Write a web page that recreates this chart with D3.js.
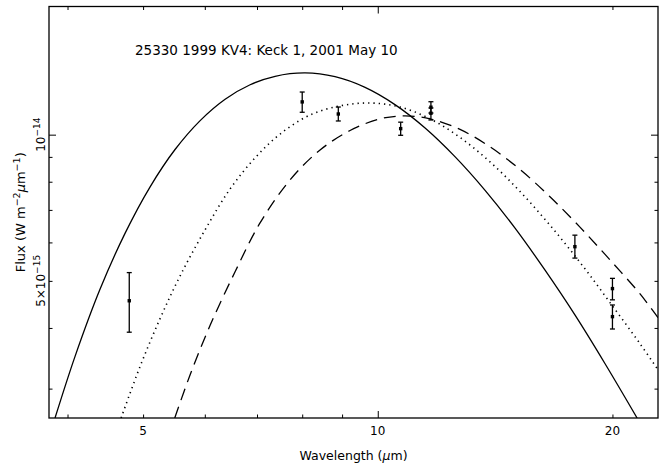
<!DOCTYPE html>
<html>
<head>
<meta charset="utf-8">
<script src="https://cdn.jsdelivr.net/npm/d3@7/dist/d3.min.js"></script>
<style>
body { margin: 0; background: #fff; }
text { font-family: 'DejaVu Sans', sans-serif; fill: #000; }
</style>
</head>
<body>
<svg id="chart" width="660" height="473"></svg>
<script>
let title = '25330 1999 KV4: Keck 1, 2001 May 10'

// observations: wavelength (um), flux and error bar ends (W m-2 um-1)
let obs_wave = [4.80, 8.0, 8.9, 10.7, 11.7, 11.7, 17.9, 20.0, 20.0]
let obs_flux = [4.55e-15, 1.168e-14, 1.103e-14, 1.029e-14, 1.139e-14, 1.107e-14, 5.88e-15, 4.82e-15, 4.22e-15]
let obs_hi = [5.20e-15, 1.224e-14, 1.140e-14, 1.061e-14, 1.169e-14, 1.135e-14, 6.21e-15, 5.06e-15, 4.46e-15]
let obs_lo = [3.92e-15, 1.112e-14, 1.067e-14, 0.997e-14, 1.108e-14, 1.072e-14, 5.57e-15, 4.57e-15, 3.98e-15]

// model curves
let solid_wave = [3.855, 4.091, 4.404, 4.742, 5.105, 5.495, 5.918, 6.371, 6.859, 7.385, 8.069, 8.815, 9.632, 10.52, 11.50, 12.56, 13.73, 15.00, 16.39, 17.91, 19.56, 21.51]
let solid_flux = [2.61e-15, 3.50e-15, 4.81e-15, 6.27e-15, 7.81e-15, 9.32e-15, 1.069e-14, 1.183e-14, 1.267e-14, 1.319e-14, 1.340e-14, 1.316e-14, 1.251e-14, 1.153e-14, 1.032e-14, 9.01e-15, 7.68e-15, 6.42e-15, 5.26e-15, 4.25e-15, 3.38e-15, 2.61e-15]

let dotted_wave = [4.686, 4.955, 5.257, 5.578, 6.005, 6.465, 6.961, 7.495, 8.188, 8.946, 9.775, 10.68, 11.67, 12.75, 13.93, 15.22, 16.63, 18.17, 19.86, 21.70, 22.88]
let dotted_flux = [2.61e-15, 3.33e-15, 4.18e-15, 5.12e-15, 6.37e-15, 7.73e-15, 8.96e-15, 1.003e-14, 1.098e-14, 1.146e-14, 1.162e-14, 1.140e-14, 1.078e-14, 9.87e-15, 8.79e-15, 7.64e-15, 6.51e-15, 5.46e-15, 4.51e-15, 3.71e-15, 3.28e-15]

let dashed_wave = [5.490, 5.744, 6.095, 6.561, 7.063, 7.718, 8.433, 9.215, 10.07, 10.84, 11.67, 12.75, 13.93, 15.22, 16.63, 18.17, 19.86, 21.70, 22.88]
let dashed_flux = [2.61e-15, 3.20e-15, 4.05e-15, 5.22e-15, 6.58e-15, 8.07e-15, 9.30e-15, 1.020e-14, 1.078e-14, 1.093e-14, 1.078e-14, 1.025e-14, 9.44e-15, 8.48e-15, 7.45e-15, 6.45e-15, 5.52e-15, 4.70e-15, 4.20e-15]

// ticks
let x_major = [10]
let x_minor = [4, 5, 6, 7, 8, 9, 20]
let x_labels = [5, 10, 20]
let y_major = [1e-14]
let y_minor = [3e-15, 4e-15, 5e-15, 6e-15, 7e-15, 8e-15, 9e-15]
let y_labels = [5e-15, 1e-14]
let y_label_text = [['5\u00d710', '\u221215'], ['10', '\u221214']]

let pad_l = 49, pad_r = 658, pad_t = 6.5, pad_b = 418

let chart = d3.select('#chart')

let xScale = d3.scaleLog()
    .domain([3.787, 22.88])
    .range([pad_l, pad_r])

let yScale = d3.scaleLog()
    .domain([2.61e-15, 1.836e-14])
    .range([pad_b, pad_t])

chart.append('clipPath')
    .attr('id', 'frame-clip')
    .append('rect')
    .attr('x', pad_l)
    .attr('y', pad_t)
    .attr('width', pad_r - pad_l)
    .attr('height', pad_b - pad_t)

// tick marks on all four sides, pointing inward
function ticks(gen, values, size, transform) {
    let g = chart.append('g')
        .attr('transform', transform)
        .call(gen.tickValues(values).tickSize(-size).tickFormat(''))
    g.select('.domain').remove()
    g.selectAll('line').attr('stroke', '#000').attr('stroke-width', 1)
}
ticks(d3.axisBottom(xScale), x_major, 7, `translate(0, ${pad_b})`)
ticks(d3.axisBottom(xScale), x_minor, 3.5, `translate(0, ${pad_b})`)
ticks(d3.axisTop(xScale), x_major, 7, `translate(0, ${pad_t})`)
ticks(d3.axisTop(xScale), x_minor, 3.5, `translate(0, ${pad_t})`)
ticks(d3.axisLeft(yScale), y_major, 7, `translate(${pad_l}, 0)`)
ticks(d3.axisLeft(yScale), y_minor, 3.5, `translate(${pad_l}, 0)`)
ticks(d3.axisRight(yScale), y_major, 7, `translate(${pad_r}, 0)`)
ticks(d3.axisRight(yScale), y_minor, 3.5, `translate(${pad_r}, 0)`)

chart.append('rect')
    .attr('x', pad_l)
    .attr('y', pad_t)
    .attr('width', pad_r - pad_l)
    .attr('height', pad_b - pad_t)
    .attr('fill', 'none')
    .attr('stroke', '#000')
    .attr('stroke-width', 1.3)

// tick labels
chart.selectAll('.xlab')
    .data(x_labels)
    .enter().append('text')
    .attr('class', 'xlab')
    .attr('x', d => xScale(d))
    .attr('y', 435)
    .attr('text-anchor', 'middle')
    .attr('font-size', 12)
    .text(d3.format('d'))

y_labels.forEach((v, i) => {
    let t = chart.append('text')
        .attr('transform', `translate(45, ${yScale(v)}) rotate(-90)`)
        .attr('text-anchor', 'middle')
        .attr('font-size', 12)
    t.append('tspan').text(y_label_text[i][0])
    t.append('tspan').attr('dy', -5).attr('font-size', 9).text(y_label_text[i][1])
})

// axis titles
let xt = chart.append('text')
    .attr('x', (pad_l + pad_r) / 2)
    .attr('y', 460)
    .attr('text-anchor', 'middle')
    .attr('font-size', 12.5)
xt.append('tspan').text('Wavelength (')
xt.append('tspan').attr('font-style', 'italic').text('\u03bc')
xt.append('tspan').text('m)')

let yt = chart.append('text')
    .attr('transform', `translate(25, ${(pad_t + pad_b) / 2}) rotate(-90)`)
    .attr('text-anchor', 'middle')
    .attr('font-size', 13)
yt.append('tspan').text('Flux (W m')
yt.append('tspan').attr('dy', -5).attr('font-size', 9.5).text('\u22122')
yt.append('tspan').attr('dy', 5).attr('font-style', 'italic').text('\u03bc')
yt.append('tspan').text('m')
yt.append('tspan').attr('dy', -5).attr('font-size', 9.5).text('\u22121')
yt.append('tspan').attr('dy', 5).text(')')

chart.append('text')
    .attr('x', 135)
    .attr('y', 55)
    .attr('font-size', 13.5)
    .text(title)

// model curves
let line = d3.line()
    .x(d => xScale(d[0]))
    .y(d => yScale(d[1]))
    .curve(d3.curveCatmullRom)

let curves = [
    [d3.zip(solid_wave, solid_flux), null, 1.3],
    [d3.zip(dotted_wave, dotted_flux), '1.3,4', 1.6],
    [d3.zip(dashed_wave, dashed_flux), '12,7', 1.3]
]
curves.forEach(c => {
    chart.append('path')
        .attr('clip-path', 'url(#frame-clip)')
        .attr('d', line(c[0]))
        .attr('fill', 'none')
        .attr('stroke', '#000')
        .attr('stroke-width', c[2])
        .attr('stroke-dasharray', c[1])
})

// observations with error bars
let obs = d3.range(obs_wave.length).map(i => ({
    w: obs_wave[i], f: obs_flux[i], hi: obs_hi[i], lo: obs_lo[i]
}))
let g = chart.append('g').attr('stroke', '#000').attr('stroke-width', 1.3)
obs.forEach(d => {
    let x = xScale(d.w)
    g.append('line').attr('x1', x).attr('x2', x).attr('y1', yScale(d.hi)).attr('y2', yScale(d.lo))
    g.append('line').attr('x1', x - 2.5).attr('x2', x + 2.5).attr('y1', yScale(d.hi)).attr('y2', yScale(d.hi))
    g.append('line').attr('x1', x - 2.5).attr('x2', x + 2.5).attr('y1', yScale(d.lo)).attr('y2', yScale(d.lo))
    chart.append('rect')
        .attr('x', x - 1.7)
        .attr('y', yScale(d.f) - 1.7)
        .attr('width', 3.4)
        .attr('height', 3.4)
        .attr('fill', '#000')
})
</script>
</body>
</html>
